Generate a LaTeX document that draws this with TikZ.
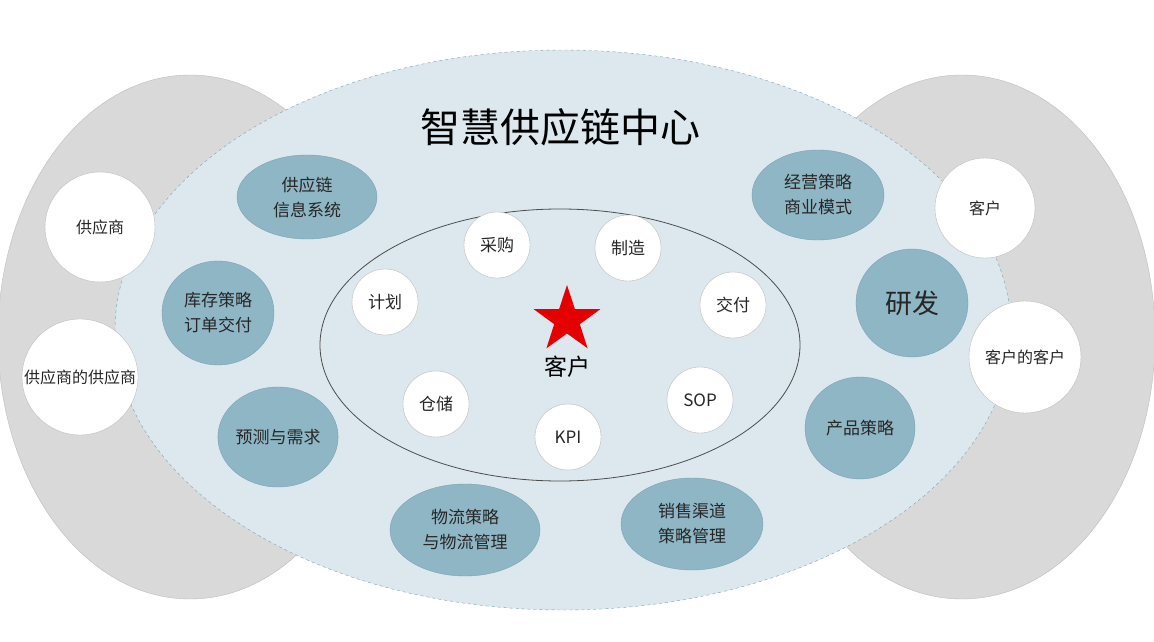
\documentclass[tikz,border=0pt]{standalone}
\usepackage{fontspec}
\setmainfont{Noto Sans CJK SC}
\usetikzlibrary{shapes.geometric}
\definecolor{grayc}{HTML}{D9D9D9}
\definecolor{grayb}{HTML}{BDBDBD}
\definecolor{bigc}{HTML}{DCE7EE}
\definecolor{tealc}{HTML}{8FB6C4}
\definecolor{tealb}{HTML}{7BA2B2}
\tikzset{
  outer/.style={circle,draw=grayb,fill=white,minimum size=#1,align=center,font=\fontsize{16}{18}\selectfont,text=black!85},
  tealn/.style={ellipse,draw=tealb,fill=tealc,align=center,font=\fontsize{17}{25}\selectfont,text=black!85,inner sep=0pt},
  smalln/.style={circle,draw=grayb,fill=white,minimum size=66pt,inner sep=0pt,font=\fontsize{17}{18}\selectfont,text=black!85}
}
\begin{document}
\begin{tikzpicture}[x=1pt,y=-1pt]
\useasboundingbox (0,0) rectangle (1154,642);
\fill[white] (0,0) rectangle (1154,642);
\filldraw[fill=grayc,draw=grayb] (190,337) ellipse [x radius=192,y radius=262];
\filldraw[fill=grayc,draw=grayb] (962,337) ellipse [x radius=193,y radius=262];
\filldraw[fill=bigc,draw=tealb,dashed] (563,330) ellipse [x radius=448,y radius=280];
\draw[black!70,thick] (560,345) ellipse [x radius=240,y radius=136];
\node (title) at (560,127) {\fontsize{40}{44}\selectfont 智慧供应链中心};
\node[outer=110pt] (s1) at (100,227) {供应商};
\node[outer=116pt,inner sep=0pt] (s2) at (80,377) {供应商的供应商};
\node[outer=100pt] (c1) at (985,208) {客户};
\node[outer=112pt,inner sep=0pt] (c2) at (1025,357) {客户的客户};
\node[tealn,minimum width=140pt,minimum height=84pt] (t1) at (307,197) {供应链\\信息系统};
\node[tealn,minimum width=112pt,minimum height=104pt] (t2) at (218,313) {库存策略\\订单交付};
\node[tealn,minimum width=110pt,minimum height=100pt] (t3) at (278,437) {预测与需求};
\node[tealn,minimum width=150pt,minimum height=92pt] (t4) at (465,530) {物流策略\\与物流管理};
\node[tealn,minimum width=142pt,minimum height=92pt] (t5) at (692,524) {销售渠道\\策略管理};
\node[tealn,minimum width=110pt,minimum height=102pt] (t6) at (860,428) {产品策略};
\node[tealn,minimum width=112pt,minimum height=108pt,font=\fontsize{27}{30}\selectfont] (t7) at (912,303) {研发};
\node[tealn,minimum width=132pt,minimum height=90pt] (t8) at (818,195) {经营策略\\商业模式};
\node[smalln] (i1) at (497,245) {采购};
\node[smalln] (i2) at (628,248) {制造};
\node[smalln] (i3) at (733,305) {交付};
\node[smalln] (i4) at (700,400) {SOP};
\node[smalln] (i5) at (568,437) {KPI};
\node[smalln] (i6) at (436,404) {仓储};
\node[smalln] (i7) at (385,302) {计划};
\node[star,star points=5,star point ratio=2.6,fill=red!90!black,minimum size=70pt,inner sep=0pt] (star) at (567,320) {};
\node (cust) at (567,367) {\fontsize{23}{24}\selectfont 客户};
\end{tikzpicture}
\end{document}
